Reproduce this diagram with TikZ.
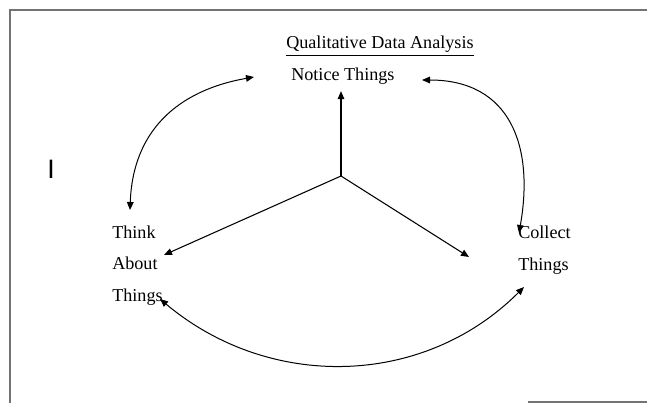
\documentclass[tikz,border=0pt]{standalone}
\usepackage{fontspec}
\setmainfont{Liberation Serif}
\newfontfamily\markfont{Liberation Sans}
\usetikzlibrary{arrows.meta}

\begin{document}
\begin{tikzpicture}[x=0.75pt,y=-0.75pt,
    every node/.style={font=\fontsize{13.6}{23.3}\selectfont, inner sep=0pt},
    word/.style={anchor=base west, align=left},
    spoke/.style={-{Triangle[length=6pt,width=5pt]}, line width=0.8pt},
    cycle arrow/.style={{Triangle[length=6pt,width=5pt]}-{Triangle[length=6pt,width=5pt]},
        line width=0.75pt},
    frame/.style={draw=black!55, line width=1.4pt}]
    \useasboundingbox (0,0) rectangle (647,403);

    % page edges
    \draw[frame] (9,10) -- (647,10);
    \draw[frame] (10,10) -- (10,403);
    \draw[frame] (528,402) -- (647,402);

    % multi-line words sit on the baseline of their last line
    \node[word] (title) at (286,49) {\underline{Qualitative Data Analysis}};
    \node[word, inner ysep=4.5pt] (notice) at (291,81) {Notice Things};
    \node[word] (think) at (112,301) {Think\\About\\Things};
    \node[word] (collect) at (518,270) {Collect\\Things};
    \node[anchor=base, font=\markfont\fontsize{20}{20}\selectfont] (mark) at (51,179) {I};

    \coordinate (hub) at (341,176);
    \coordinate (think in) at (164,255);
    \coordinate (collect in) at (469,257);
    % ends of the three curved arrows
    \coordinate (notice left) at (254,77);
    \coordinate (notice right) at (422,80);
    \coordinate (think top) at (130,210);
    \coordinate (think bottom) at (160,299);
    \coordinate (collect top) at (519,233);
    \coordinate (collect bottom) at (524,287);

    \draw[spoke] (hub) -- (notice.south -| hub);
    \draw[spoke] (hub) -- (think in);
    \draw[spoke] (hub) -- (collect in);

    \draw[cycle arrow] (think top) to[out=88,in=190,looseness=1.1] (notice left);
    \draw[cycle arrow] (notice right) to[out=0,in=80,looseness=1.25] (collect top);
    \draw[cycle arrow] (think bottom) to[out=-40,in=225] (collect bottom);
\end{tikzpicture}
\end{document}
